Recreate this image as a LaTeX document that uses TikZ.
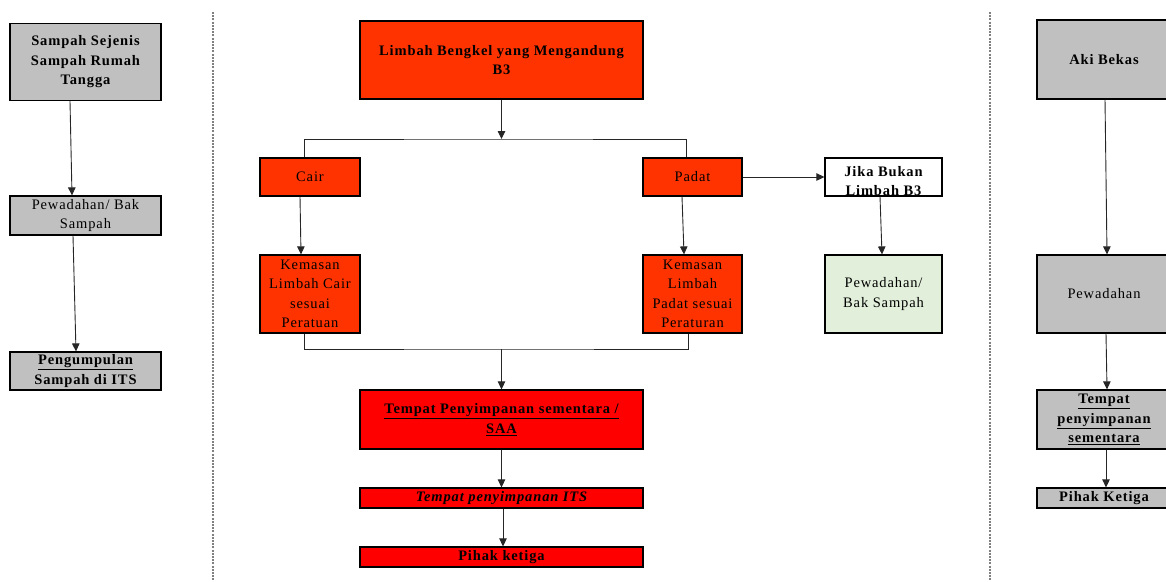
\documentclass[tikz,border=0pt]{standalone}
\usepackage{fontspec}
\setmainfont[LetterSpace=6]{Liberation Serif}
\usetikzlibrary{arrows.meta}
\definecolor{grayfill}{HTML}{C0C0C0}
\definecolor{orangered}{HTML}{FF3300}
\definecolor{redfill}{HTML}{FF0000}
\definecolor{greenfill}{HTML}{E2EFDA}
\begin{document}
\begin{tikzpicture}[x=1pt,y=-1pt,
  box/.style={draw=black, line width=1.2pt, inner sep=0pt, align=center,
    font=\fontsize{14.5}{19.5}\selectfont},
  gbox/.style={box, fill=grayfill},
  obox/.style={box, fill=orangered},
  rbox/.style={box, fill=redfill},
  wbox/.style={box, fill=white},
  lgbox/.style={box, fill=greenfill},
  conn/.style={draw=black!85, line width=0.9pt},
  arr/.style={conn, -{Triangle[length=8pt,width=7.5pt]}},
  divider/.style={draw=gray, line width=1.2pt, dash pattern=on 2pt off 1.2pt}]
\useasboundingbox (0,0) rectangle (1166,581);
\clip (0,0) rectangle (1166,581);

% dividers
\draw[divider] (213,12) -- (213,581);
\draw[divider] (990,12) -- (990,581);

% left column
\node[gbox, minimum width=151, minimum height=77] (b1) at (85.5,62)
  {\bfseries Sampah Sejenis\\\bfseries Sampah Rumah\\\bfseries Tangga};
\node[gbox, minimum width=151, minimum height=39] (b2) at (85.5,215.5)
  {Pewadahan/ Bak\\Sampah};
\node[gbox, minimum width=151, minimum height=38] (b3) at (85.5,371)
  {\bfseries\underline{Pengumpulan}\\\bfseries Sampah di ITS};

\draw[arr] ([xshift=-15.5]b1.south) -- ([xshift=-13.5]b2.north);
\draw[arr] ([xshift=-12.5]b2.south) -- ([xshift=-9.5]b3.north);

% centre column
\node[obox, minimum width=283, minimum height=78] (t) at (501.5,60)
  {\bfseries Limbah Bengkel yang Mengandung\\\bfseries B3};
\node[obox, minimum width=100, minimum height=38] (cair) at (310,177) {Cair};
\node[obox, minimum width=99, minimum height=38] (padat) at (692.5,177) {Padat};
\node[obox, minimum width=100, minimum height=78] (kl) at (310,294)
  {Kemasan\\Limbah Cair\\sesuai\\Peratuan};
\node[obox, minimum width=99, minimum height=78] (kp) at (692.5,294)
  {Kemasan\\Limbah\\Padat sesuai\\Peraturan};
\node[wbox, minimum width=117, minimum height=38] (jb) at (883.5,177) {};
\node[font=\fontsize{14.5}{19.5}\selectfont\bfseries, align=center, inner sep=0pt]
  (jbt) at (883.5,181) {Jika Bukan\\Limbah B3};
\node[lgbox, minimum width=117, minimum height=78] (pw) at (883.5,294)
  {Pewadahan/\\Bak Sampah};
\node[rbox, minimum width=283, minimum height=59] (saa) at (501.5,419.5)
  {\bfseries\underline{Tempat Penyimpanan sementara /}\\\bfseries\underline{SAA}};
\node[rbox, minimum width=283, minimum height=20] (its) at (501.5,498)
  {\bfseries\itshape Tempat penyimpanan ITS};
\node[rbox, minimum width=283, minimum height=20] (pk) at (501.5,557)
  {\bfseries Pihak ketiga};

\coordinate (split) at (501.5,139);
\coordinate (merge) at (501.5,349);
\draw[arr] (t.south) -- (split);
\draw[conn] ([xshift=-6]cair.north) |- (split) -| ([xshift=-6.5]padat.north);
\draw[arr] ([xshift=-10]cair.south) -- ([xshift=-9]kl.north);
\draw[arr] ([xshift=-10.5]padat.south) -- ([xshift=-8.5]kp.north);
\draw[arr] (padat.east) -- (jb.west);
\draw[arr] ([xshift=-3.5]jb.south) -- ([xshift=-1.5]pw.north);
\draw[conn] ([xshift=-6]kl.south) |- (merge) -| ([xshift=-4.5]kp.south);
\draw[arr] (merge) -- (saa.north);
\draw[arr] (saa.south) -- (its.north);
\draw[arr] ([xshift=1.5]its.south) -- ([xshift=1.5]pk.north);

% right column
\node[gbox, minimum width=134, minimum height=79] (aki) at (1104,59.5)
  {\bfseries Aki Bekas};
\node[gbox, minimum width=134, minimum height=78] (pwr) at (1104,294)
  {Pewadahan};
\node[gbox, minimum width=134, minimum height=59] (tps) at (1104,419.5)
  {\bfseries\underline{Tempat}\\\bfseries\underline{penyimpanan}\\\bfseries\underline{sementara}};
\node[gbox, minimum width=134, minimum height=20] (pkr) at (1104,498)
  {\bfseries Pihak Ketiga};

\draw[arr] ([xshift=1]aki.south) -- ([xshift=3]pwr.north);
\draw[arr] ([xshift=2]pwr.south) -- ([xshift=3]tps.north);
\draw[arr] ([xshift=2]tps.south) -- ([xshift=2]pkr.north);
\end{tikzpicture}
\end{document}
